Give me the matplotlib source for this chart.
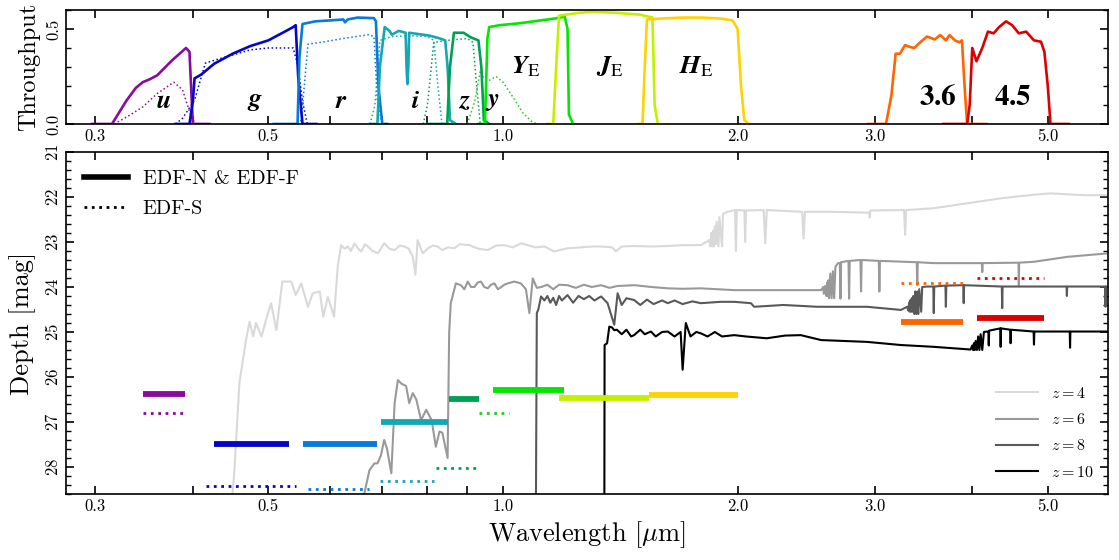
import numpy as np
import matplotlib
matplotlib.use('Agg')
import matplotlib.pyplot as plt
from matplotlib.lines import Line2D
from matplotlib.ticker import MultipleLocator, FixedLocator, NullLocator

plt.rcParams['font.family'] = 'serif'
plt.rcParams['font.serif'] = ['cmr10']
plt.rcParams['mathtext.fontset'] = 'cm'
plt.rcParams['axes.unicode_minus'] = False
plt.rcParams['axes.formatter.use_mathtext'] = True

# ---------------- filter throughputs (wavelength in micron) ----------------
u_wl = [0.297, 0.315, 0.329, 0.338, 0.345, 0.352, 0.360, 0.376, 0.392, 0.396, 0.400, 0.420]
u_tp = [0.0, 0.0, 0.125, 0.19, 0.22, 0.235, 0.256, 0.334, 0.40, 0.38, 0.0, 0.0]
u_s_wl = [0.317, 0.330, 0.345, 0.360, 0.372, 0.378, 0.388, 0.395, 0.400, 0.405]
u_s_tp = [0.0, 0.04, 0.09, 0.16, 0.20, 0.22, 0.18, 0.08, 0.02, 0.0]

g_wl = [0.380, 0.396, 0.400, 0.402, 0.410, 0.426, 0.450, 0.474, 0.500, 0.527, 0.538, 0.542, 0.546, 0.553, 0.576]
g_tp = [0.0, 0.0, 0.12, 0.24, 0.26, 0.317, 0.37, 0.41, 0.44, 0.49, 0.51, 0.52, 0.25, 0.0, 0.0]
g_s_wl = [0.380, 0.388, 0.402, 0.415, 0.430, 0.447, 0.474, 0.500, 0.538, 0.546, 0.553, 0.561]
g_s_tp = [0.0, 0.03, 0.125, 0.32, 0.34, 0.36, 0.39, 0.40, 0.40, 0.30, 0.12, 0.0]

r_wl = [0.508, 0.545, 0.548, 0.553, 0.574, 0.600, 0.624, 0.627, 0.632, 0.651, 0.683, 0.687, 0.692, 0.700, 0.710]
r_tp = [0.0, 0.0, 0.35, 0.526, 0.54, 0.545, 0.55, 0.535, 0.55, 0.56, 0.557, 0.54, 0.2, 0.0, 0.0]
r_s_wl = [0.545, 0.551, 0.562, 0.585, 0.624, 0.673, 0.683, 0.690, 0.700]
r_s_tp = [0.0, 0.02, 0.42, 0.43, 0.45, 0.47, 0.46, 0.12, 0.0]

i_wl = [0.675, 0.690, 0.695, 0.705, 0.715, 0.720, 0.735, 0.750, 0.752, 0.754, 0.756, 0.758, 0.805, 0.830, 0.843, 0.849, 0.855, 0.870]
i_tp = [0.0, 0.0, 0.3, 0.51, 0.49, 0.47, 0.49, 0.48, 0.3, 0.21, 0.3, 0.48, 0.465, 0.45, 0.44, 0.3, 0.02, 0.0]
i_s_wl = [0.675, 0.685, 0.695, 0.720, 0.760, 0.800, 0.815, 0.825, 0.835]
i_s_tp = [0.0, 0.1, 0.44, 0.46, 0.465, 0.46, 0.44, 0.2, 0.0]

z_wl = [0.800, 0.848, 0.855, 0.865, 0.890, 0.910, 0.930, 0.938, 0.945, 0.960]
z_tp = [0.0, 0.0, 0.3, 0.48, 0.48, 0.455, 0.44, 0.3, 0.02, 0.0]
z_s_wl = [0.790, 0.800, 0.815, 0.850, 0.900, 0.915, 0.925, 0.935]
z_s_tp = [0.0, 0.1, 0.43, 0.44, 0.45, 0.43, 0.2, 0.0]

y_s_wl = [0.900, 0.920, 0.935, 0.945, 0.960, 0.980, 1.000, 1.036, 1.060, 1.090, 1.110]
y_s_tp = [0.0, 0.12, 0.28, 0.24, 0.23, 0.25, 0.22, 0.125, 0.06, 0.01, 0.0]

YE_wl = [0.930, 0.948, 0.955, 0.960, 0.990, 1.050, 1.117, 1.170, 1.200, 1.210, 1.215, 1.230]
YE_tp = [0.0, 0.0, 0.45, 0.51, 0.52, 0.53, 0.545, 0.556, 0.565, 0.5, 0.05, 0.0]
JE_wl = [1.140, 1.160, 1.170, 1.180, 1.250, 1.300, 1.400, 1.500, 1.555, 1.565, 1.580]
JE_tp = [0.0, 0.0, 0.3, 0.57, 0.585, 0.59, 0.585, 0.575, 0.56, 0.1, 0.0]
HE_wl = [1.490, 1.510, 1.520, 1.530, 1.600, 1.700, 1.800, 1.900, 1.970, 2.000, 2.020, 2.040, 2.070]
HE_tp = [0.0, 0.0, 0.3, 0.55, 0.555, 0.56, 0.56, 0.555, 0.545, 0.5, 0.2, 0.02, 0.0]

ch1_wl = [2.94, 3.10, 3.15, 3.19, 3.23, 3.28, 3.33, 3.37, 3.43, 3.50, 3.58, 3.64, 3.70, 3.74, 3.80, 3.85, 3.88, 3.91, 3.94, 4.17]
ch1_tp = [0.0, 0.0, 0.15, 0.37, 0.37, 0.415, 0.405, 0.40, 0.43, 0.46, 0.445, 0.468, 0.44, 0.468, 0.44, 0.43, 0.44, 0.2, 0.0, 0.0]
ch2_wl = [3.67, 3.94, 3.97, 4.00, 4.05, 4.12, 4.19, 4.26, 4.33, 4.42, 4.50, 4.59, 4.69, 4.80, 4.90, 4.95, 5.00, 5.04, 5.32]
ch2_tp = [0.0, 0.0, 0.1, 0.40, 0.33, 0.40, 0.486, 0.477, 0.51, 0.54, 0.52, 0.477, 0.486, 0.44, 0.433, 0.38, 0.2, 0.0, 0.0]

c_u, c_g, c_r, c_i, c_z = '#8a0aa0', '#0505c8', '#0a7ad8', '#14a8b4', '#00a055'
c_y, c_Y, c_J, c_H = '#22cc22', '#00e800', '#c4f000', '#ffd200'
c_ch1, c_ch2 = '#ff6400', '#dc0000'

# filter labels
lab_text = [r'$\mathbfit{u}$', r'$\mathbfit{g}$', r'$\mathbfit{r}$', r'$\mathbfit{i}$', r'$\mathbfit{z}$',
            r'$\mathbfit{y}$', r'$\mathbfit{Y}_{\mathrm{E}}$', r'$\mathbfit{J}_{\mathrm{E}}$',
            r'$\mathbfit{H}_{\mathrm{E}}$', r'$\mathbf{3.6}$', r'$\mathbf{4.5}$']
lab_x = [0.367, 0.48, 0.62, 0.773, 0.891, 0.97, 1.07, 1.37, 1.77, 3.61, 4.51]
lab_y = [0.12, 0.12, 0.12, 0.12, 0.12, 0.12, 0.30, 0.30, 0.30, 0.14, 0.14]
lab_size = [19, 19, 19, 19, 19, 19, 19, 19, 19, 21, 21]

# ---------------- depths (mag) ----------------
deep_lo = [0.345, 0.426, 0.554, 0.697, 0.853, 0.971, 1.18, 1.54, 3.24, 4.06]
deep_hi = [0.391, 0.531, 0.689, 0.849, 0.931, 1.197, 1.54, 2.00, 3.89, 4.94]
deep_mag = [26.38, 27.5, 27.5, 27.0, 26.5, 26.3, 26.47, 26.39, 24.78, 24.7]
deep_col = [c_u, c_g, c_r, c_i, c_z, c_Y, c_J, c_H, c_ch1, c_ch2]

south_lo = [0.345, 0.416, 0.562, 0.696, 0.820, 0.932, 3.24, 4.06]
south_hi = [0.390, 0.543, 0.673, 0.816, 0.923, 1.018, 3.89, 4.94]
south_mag = [26.8, 28.42, 28.5, 28.32, 28.02, 26.8, 23.92, 23.79]
south_col = [c_u, c_g, c_r, c_i, c_z, c_y, c_ch1, c_ch2]

# ---------------- model galaxy spectra ----------------
z4 = np.array([
    (0.445, 29.5), (0.452, 28.14), (0.459, 26.13), (0.468, 25.18), (0.473, 24.77), (0.478, 25.1),
    (0.482, 24.8), (0.490, 25.1), (0.497, 24.7), (0.504, 24.36), (0.512, 24.96), (0.521, 23.88),
    (0.535, 23.88), (0.542, 24.18), (0.551, 23.92), (0.562, 24.44), (0.570, 24.14), (0.582, 24.1),
    (0.588, 24.66), (0.596, 24.22), (0.607, 24.66), (0.614, 23.51), (0.620, 23.07), (0.626, 23.15),
    (0.632, 23.1), (0.638, 23.2), (0.645, 23.03), (0.652, 23.15), (0.658, 23.21), (0.665, 23.05),
    (0.671, 23.1), (0.680, 23.2), (0.691, 23.25), (0.704, 23.03), (0.715, 23.15), (0.726, 23.18),
    (0.737, 23.08), (0.747, 23.1), (0.757, 23.15), (0.766, 23.33), (0.772, 23.73), (0.777, 22.96),
    (0.789, 23.25), (0.800, 23.15), (0.812, 23.08), (0.824, 23.1), (0.836, 23.18), (0.850, 23.12),
    (0.866, 23.14), (0.880, 23.05), (0.905, 23.07), (0.930, 23.15), (0.956, 23.18), (0.980, 23.08),
    (1.004, 23.07), (1.030, 23.12), (1.055, 23.03), (1.076, 23.07), (1.100, 23.12), (1.130, 23.1),
    (1.163, 23.21), (1.210, 23.14), (1.260, 23.12), (1.300, 23.1), (1.336, 23.1), (1.380, 23.12),
    (1.396, 23.21), (1.420, 23.1), (1.473, 23.09), (1.550, 23.1), (1.627, 23.09), (1.700, 23.07),
    (1.794, 23.07), (1.839, 22.96), (1.845, 23.1), (1.850, 22.8), (1.855, 23.1), (1.860, 22.75),
    (1.865, 23.1), (1.870, 22.65), (1.875, 23.05), (1.880, 22.55), (1.890, 23.1), (1.895, 22.45),
    (1.910, 23.1), (1.915, 22.38), (1.940, 22.33), (1.985, 22.29), (1.990, 23.2), (1.995, 22.29),
    (2.040, 22.3), (2.045, 23.0), (2.050, 22.3), (2.160, 22.29), (2.170, 23.03), (2.180, 22.29),
    (2.420, 22.33), (2.430, 22.92), (2.440, 22.33), (2.660, 22.33), (2.950, 22.35), (2.955, 22.46),
    (2.960, 22.3), (3.270, 22.29), (3.280, 22.84), (3.290, 22.29), (3.570, 22.25), (3.940, 22.14),
    (4.350, 22.03), (4.800, 21.95), (5.040, 21.92), (5.560, 21.96), (6.000, 21.96)])

z6 = np.array([
    (0.660, 29.0), (0.664, 28.58), (0.674, 28.07), (0.684, 27.92), (0.690, 27.92), (0.697, 27.75),
    (0.704, 27.4), (0.710, 27.6), (0.719, 28.14), (0.726, 26.58), (0.733, 26.07), (0.741, 26.15),
    (0.751, 26.2), (0.758, 26.58), (0.766, 26.36), (0.774, 26.5), (0.785, 26.96), (0.797, 26.73),
    (0.810, 26.96), (0.820, 27.55), (0.829, 27.21), (0.836, 27.24), (0.849, 27.8), (0.853, 25.0),
    (0.857, 24.36), (0.870, 23.92), (0.883, 23.96), (0.892, 24.05), (0.901, 23.88), (0.910, 24.0),
    (0.919, 24.0), (0.928, 23.9), (0.937, 23.88), (0.946, 24.0), (0.956, 24.03), (0.965, 23.95),
    (0.975, 23.92), (0.985, 24.05), (0.995, 24.0), (1.004, 23.95), (1.014, 23.92), (1.034, 23.88),
    (1.054, 23.92), (1.070, 24.05), (1.081, 24.58), (1.092, 23.81), (1.105, 24.02), (1.120, 24.0),
    (1.140, 23.95), (1.160, 24.05), (1.180, 23.95), (1.210, 23.96), (1.240, 24.02), (1.270, 23.95),
    (1.300, 24.0), (1.336, 23.96), (1.370, 24.02), (1.400, 23.98), (1.473, 23.96), (1.550, 24.0),
    (1.627, 24.03), (1.700, 24.04), (1.794, 24.03), (1.980, 24.07), (2.180, 24.07), (2.410, 24.07),
    (2.560, 24.07), (2.575, 24.0), (2.580, 24.15), (2.590, 23.98), (2.600, 24.2), (2.605, 23.9),
    (2.610, 24.2), (2.615, 23.85), (2.620, 24.25), (2.630, 23.7), (2.640, 24.25), (2.650, 23.65),
    (2.660, 24.25), (2.670, 23.55), (2.690, 23.47), (2.705, 23.47), (2.710, 24.26), (2.715, 23.45),
    (2.775, 23.42), (2.780, 24.26), (2.785, 23.42), (2.875, 23.4), (2.880, 24.1), (2.885, 23.4),
    (3.035, 23.42), (3.040, 24.1), (3.045, 23.42), (3.395, 23.45), (3.400, 23.96), (3.405, 23.45),
    (3.570, 23.47), (4.115, 23.47), (4.120, 23.67), (4.125, 23.47), (4.585, 23.46), (4.590, 23.96),
    (4.595, 23.46), (4.800, 23.44), (5.300, 23.33), (6.000, 23.25)])

z8 = np.array([
    (1.102, 29.0), (1.105, 24.58), (1.110, 24.5), (1.119, 24.21), (1.130, 24.3), (1.140, 24.2),
    (1.150, 24.35), (1.160, 24.24), (1.170, 24.4), (1.180, 24.2), (1.190, 24.3), (1.210, 24.18),
    (1.230, 24.35), (1.250, 24.2), (1.270, 24.27), (1.290, 24.2), (1.310, 24.3), (1.336, 24.21),
    (1.362, 24.36), (1.389, 24.84), (1.403, 24.14), (1.420, 24.4), (1.440, 24.25), (1.473, 24.29),
    (1.500, 24.4), (1.530, 24.28), (1.560, 24.38), (1.600, 24.3), (1.627, 24.36), (1.660, 24.3),
    (1.700, 24.38), (1.750, 24.32), (1.794, 24.36), (1.900, 24.33), (1.980, 24.33), (2.080, 24.36),
    (2.100, 24.44), (2.290, 24.4), (2.530, 24.44), (2.660, 24.44), (2.930, 24.44), (3.240, 24.51),
    (3.300, 24.44), (3.310, 24.52), (3.320, 24.35), (3.325, 24.55), (3.330, 24.3), (3.340, 24.55),
    (3.345, 24.25), (3.355, 24.55), (3.360, 24.2), (3.370, 24.6), (3.380, 24.1), (3.390, 24.6),
    (3.400, 24.1), (3.410, 24.6), (3.420, 24.05), (3.440, 24.55), (3.450, 24.0), (3.500, 23.99),
    (3.565, 23.99), (3.570, 24.58), (3.575, 23.99), (3.695, 23.97), (3.700, 24.44), (3.705, 23.97),
    (3.895, 23.96), (3.900, 24.36), (3.905, 23.96), (4.365, 23.99), (4.370, 24.47), (4.375, 23.99),
    (4.800, 23.99), (5.285, 23.99), (5.290, 24.2), (5.295, 23.99), (5.925, 23.99), (5.930, 24.44),
    (5.935, 23.99), (6.000, 23.99)])

z10 = np.array([
    (1.349, 29.0), (1.350, 25.29), (1.360, 25.25), (1.369, 24.88), (1.380, 24.9), (1.389, 24.96),
    (1.400, 24.95), (1.420, 25.05), (1.440, 24.95), (1.460, 25.1), (1.473, 25.07), (1.500, 24.95),
    (1.520, 25.05), (1.548, 24.99), (1.570, 25.1), (1.600, 25.0), (1.627, 24.99), (1.660, 25.1),
    (1.690, 25.0), (1.700, 25.84), (1.716, 24.8), (1.740, 25.1), (1.770, 25.0), (1.794, 25.03),
    (1.830, 25.1), (1.870, 25.0), (1.910, 25.1), (1.980, 25.07), (2.050, 25.1), (2.180, 25.14),
    (2.300, 25.08), (2.410, 25.07), (2.560, 25.18), (2.930, 25.22), (3.240, 25.29), (3.570, 25.33),
    (3.980, 25.39), (4.000, 25.3), (4.010, 25.4), (4.020, 25.25), (4.030, 25.4), (4.040, 25.2),
    (4.055, 25.4), (4.070, 25.1), (4.085, 25.4), (4.100, 25.05), (4.120, 25.4), (4.140, 25.0),
    (4.180, 24.99), (4.195, 24.99), (4.200, 25.3), (4.205, 24.97), (4.345, 24.92), (4.350, 25.33),
    (4.355, 24.92), (4.475, 24.95), (4.480, 25.25), (4.485, 24.95), (4.795, 24.99), (4.800, 25.28),
    (4.805, 24.99), (5.335, 24.99), (5.340, 25.35), (5.345, 24.99), (6.000, 24.99)])

sed_list = [z4, z6, z8, z10]
sed_col = ['#d9d9d9', '#999999', '#595959', 'black']
sed_lab = [r'$z = 4$', r'$z = 6$', r'$z = 8$', r'$z = 10$']

xmaj = [0.3, 0.4, 0.5, 0.6, 0.7, 0.8, 0.9, 1.0, 2.0, 3.0, 4.0, 5.0]
xlab = ['0.3', '', '0.5', '', '', '', '', '1.0', '2.0', '3.0', '', '5.0']

# ---------------- figure ----------------
fig = plt.figure(figsize=(11.19, 5.6), dpi=100)
ax1 = fig.add_axes([0.059, 0.7786, 0.931, 0.2036])
ax2 = fig.add_axes([0.059, 0.1179, 0.931, 0.6107])

solid = [(u_wl, u_tp, c_u), (g_wl, g_tp, c_g), (r_wl, r_tp, c_r), (i_wl, i_tp, c_i),
         (z_wl, z_tp, c_z), (YE_wl, YE_tp, c_Y), (JE_wl, JE_tp, c_J), (HE_wl, HE_tp, c_H),
         (ch1_wl, ch1_tp, c_ch1), (ch2_wl, ch2_tp, c_ch2)]
dotted = [(u_s_wl, u_s_tp, c_u), (g_s_wl, g_s_tp, c_g), (r_s_wl, r_s_tp, c_r),
          (i_s_wl, i_s_tp, c_i), (z_s_wl, z_s_tp, c_z), (y_s_wl, y_s_tp, c_y)]
for wl, tp, c in dotted:
    ax1.plot(wl, tp, color=c, lw=1.1, ls=':')
for wl, tp, c in solid:
    ax1.plot(wl, tp, color=c, lw=1.9)
for t, x, y, s in zip(lab_text, lab_x, lab_y, lab_size):
    ax1.text(x, y, t, fontsize=s, ha='center', va='center', math_fontfamily='stix')

for sed, c, lab in zip(sed_list, sed_col, sed_lab):
    ax2.plot(sed[:, 0], sed[:, 1], color=c, lw=1.5, label=lab, zorder=2)
for lo, hi, m, c in zip(deep_lo, deep_hi, deep_mag, deep_col):
    ax2.plot([lo, hi], [m, m], color=c, lw=4.2, solid_capstyle='butt', zorder=3)
for lo, hi, m, c in zip(south_lo, south_hi, south_mag, south_col):
    ax2.plot([lo, hi], [m, m], color=c, lw=2.0, ls=':', zorder=3)

for ax in (ax1, ax2):
    ax.set_xscale('log')
    ax.set_xlim(0.275, 5.97)
    ax.xaxis.set_major_locator(FixedLocator(xmaj))
    ax.set_xticklabels(xlab)
    ax.xaxis.set_minor_locator(NullLocator())
    ax.tick_params(which='both', direction='in', top=True, right=True, labelsize=12)
    ax.tick_params(which='major', length=6, width=1.2)
    ax.tick_params(which='minor', length=3.5, width=1.0)
    ax.tick_params(axis='y', labelrotation=90)
    for s in ax.spines.values():
        s.set_linewidth(1.2)

ax1.set_ylim(0, 0.6)
ax1.yaxis.set_major_locator(FixedLocator([0.0, 0.5]))
ax1.yaxis.set_minor_locator(MultipleLocator(0.1))
ax1.set_yticklabels(['0.0', '0.5'])
ax1.set_ylabel('Throughput', fontsize=17.5, labelpad=4)

ax2.set_ylim(28.6, 21)
ax2.yaxis.set_major_locator(MultipleLocator(1))
ax2.yaxis.set_minor_locator(MultipleLocator(0.2))
ax2.set_ylabel('Depth [mag]', fontsize=19, labelpad=6)
ax2.set_xlabel(r'Wavelength [$\mu$m]', fontsize=19, labelpad=4)
for ax in (ax1, ax2):
    for t in ax.get_yticklabels():
        t.set_va('center')

h1 = [Line2D([], [], color='k', lw=4), Line2D([], [], color='k', lw=2, ls=':')]
leg1 = ax2.legend(h1, ['EDF-N & EDF-F', 'EDF-S'], loc='upper left', frameon=False,
                  fontsize=14.5, handlelength=2.2, handletextpad=0.7, labelspacing=0.6,
                  borderaxespad=0.5)
ax2.add_artist(leg1)
ax2.legend(loc='lower right', frameon=False, fontsize=11.5, handlelength=2.6,
           labelspacing=0.7, borderaxespad=0.5)

fig.savefig('out.png', dpi=100)
